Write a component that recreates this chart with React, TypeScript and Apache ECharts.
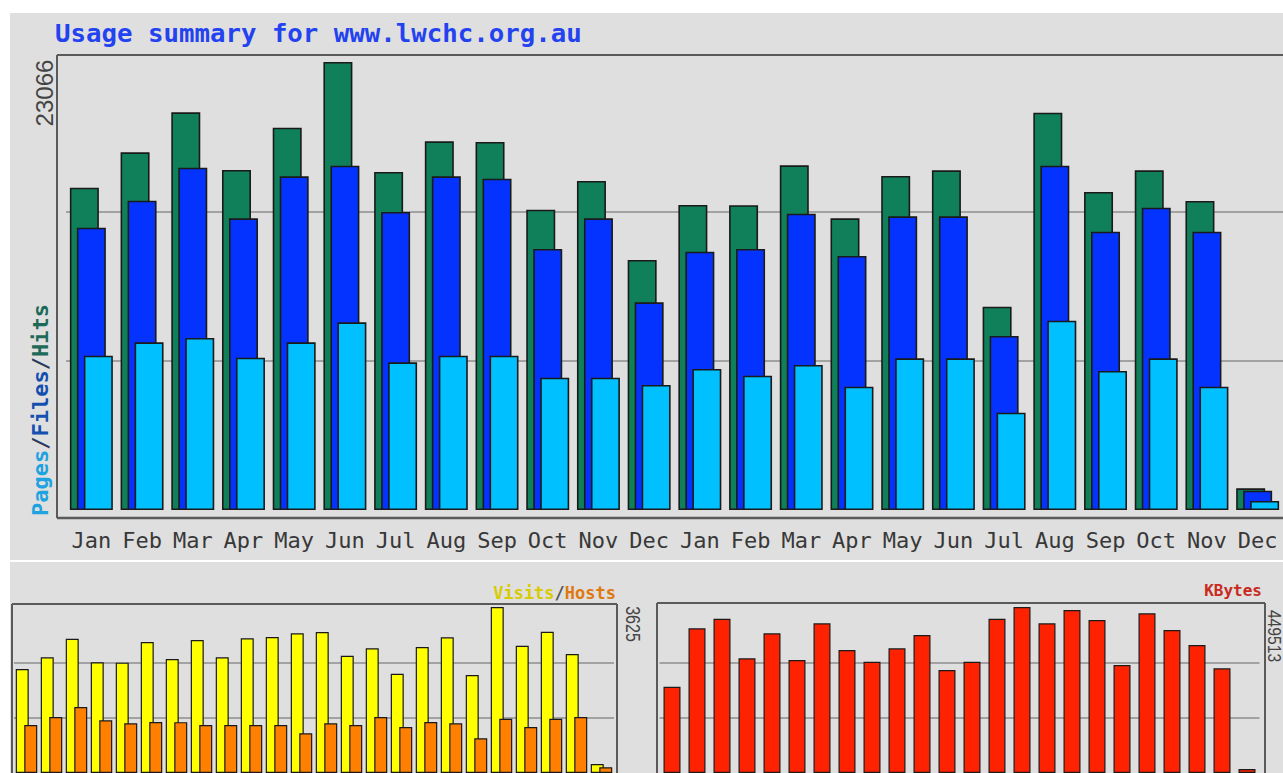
import React, { useEffect, useRef } from "react";
import * as echarts from "echarts";

const months = [
  "Jan", "Feb", "Mar", "Apr", "May", "Jun", "Jul", "Aug", "Sep", "Oct", "Nov", "Dec",
  "Jan", "Feb", "Mar", "Apr", "May", "Jun", "Jul", "Aug", "Sep", "Oct", "Nov", "Dec",
];
const hits = [
  16594, 18417, 20476, 17506, 19684, 23066, 17403, 18983, 18950, 15462, 16939, 12872,
  15704, 15690, 17748, 15019, 17197, 17490, 10467, 20456, 16373, 17490, 15910, 1117,
];
const files = [
  14535, 15925, 17624, 15019, 17181, 17727, 15343, 17181, 17058, 13438, 15019, 10694,
  13299, 13438, 15256, 13078, 15122, 15122, 8959, 17727, 14329, 15565, 14329, 994,
];
const pages = [
  7944, 8634, 8856, 7841, 8634, 9664, 7605, 7944, 7944, 6812, 6812, 6436,
  7260, 6915, 7466, 6348, 7811, 7811, 5010, 9747, 7157, 7811, 6348, 463,
];
const visits = [
  2271, 2527, 2933, 2417, 2410, 2861, 2489, 2904, 2527, 2941, 2970, 3051,
  3079, 2562, 2723, 2168, 2751, 2963, 2140, 3625, 2780, 3086, 2599, 197,
];
const hosts = [
  1048, 1223, 1441, 1150, 1085, 1114, 1110, 1048, 1048, 1048, 1048, 866,
  1085, 1048, 1223, 1004, 1114, 1085, 757, 1186, 1004, 1186, 1223, 125,
];
const kbytes = [
  233700, 391800, 417800, 310600, 378300, 306000, 405400, 333100, 301400, 337700, 373700, 278900,
  301400, 417800, 449513, 405400, 441400, 414300, 292500, 432400, 387200, 346600, 283500, 10800,
];
const hitsMax = 23066;
const visitsMax = 3625;
const kbytesMax = 449513;
const titleText = "Usage summary for www.lwchc.org.au";

const BG = "#dfdfdf";
const FRAME = "#5a5a5a";
const barBorder = { borderColor: "#1a1a1a", borderWidth: 1.6 };
const splitColors = ["rgba(0,0,0,0)", "#8e8e8e", "#8e8e8e", "rgba(0,0,0,0)"];

function valueAxis(gridIndex: number, max: number) {
  return {
    type: "value",
    gridIndex,
    min: 0,
    max,
    interval: max / 3,
    axisLabel: { show: false },
    axisLine: { show: false },
    axisTick: { show: false },
    splitLine: { show: true, lineStyle: { color: splitColors, width: 1.5 } },
  };
}

function catAxis(gridIndex: number, showLabels: boolean) {
  return {
    type: "category",
    gridIndex,
    data: months,
    axisLine: { show: false },
    axisTick: { show: false },
    splitLine: { show: false },
    axisLabel: {
      show: showLabels,
      interval: 0,
      margin: 19,
      fontFamily: "DejaVu Sans Mono",
      fontSize: 22,
      color: "#383838",
    },
  };
}

function line(x1: number, y1: number, x2: number, y2: number, w = 2) {
  return {
    type: "line",
    z: 5,
    shape: { x1, y1, x2, y2 },
    style: { stroke: FRAME, lineWidth: w },
  };
}

export default function App() {
  const ref = useRef<HTMLDivElement>(null);

  useEffect(() => {
    if (!ref.current) return;
    const chart = echarts.init(ref.current, undefined, { renderer: "svg" });
    const option = {
      animation: false,
      backgroundColor: "#ffffff",
      grid: [
        { left: 66, top: 62, width: 1218, height: 448 },
        { left: 14, top: 607, width: 600, height: 166 },
        { left: 659.5, top: 607, width: 600, height: 166 },
      ],
      xAxis: [catAxis(0, true), catAxis(1, false), catAxis(2, false)],
      yAxis: [valueAxis(0, hitsMax), valueAxis(1, visitsMax), valueAxis(2, kbytesMax)],
      series: [
        {
          type: "bar", name: "Hits", xAxisIndex: 0, yAxisIndex: 0, data: hits,
          barWidth: 29, barGap: "-75.9%", itemStyle: { color: "#10805a", ...barBorder },
        },
        {
          type: "bar", name: "Files", xAxisIndex: 0, yAxisIndex: 0, data: files,
          barWidth: 29, barGap: "-75.9%", itemStyle: { color: "#0433ff", ...barBorder },
        },
        {
          type: "bar", name: "Pages", xAxisIndex: 0, yAxisIndex: 0, data: pages,
          barWidth: 29, barGap: "-75.9%", itemStyle: { color: "#00c0ff", ...barBorder },
        },
        {
          type: "bar", name: "Visits", xAxisIndex: 1, yAxisIndex: 1, data: visits,
          barWidth: 13, barGap: "-34.6%", itemStyle: { color: "#ffff00", ...barBorder, borderWidth: 1.2 },
        },
        {
          type: "bar", name: "Hosts", xAxisIndex: 1, yAxisIndex: 1, data: hosts,
          barWidth: 13, barGap: "-34.6%", itemStyle: { color: "#ff8000", ...barBorder, borderWidth: 1.2 },
        },
        {
          type: "bar", name: "KBytes", xAxisIndex: 2, yAxisIndex: 2, data: kbytes,
          barWidth: 17, itemStyle: { color: "#ff2200", ...barBorder, borderWidth: 1.2 },
        },
      ],
      graphic: [
        { type: "rect", z: -10, shape: { x: 10, y: 13, width: 1273, height: 547 }, style: { fill: BG } },
        { type: "rect", z: -10, shape: { x: 10, y: 562, width: 1273, height: 211 }, style: { fill: BG } },
        // top frame
        line(57, 55, 1283, 55),
        line(57, 55, 57, 518),
        line(57, 518, 1283, 518, 2.5),
        // lower-left frame
        line(12, 604, 617, 604),
        line(12, 604, 12, 773),
        line(617, 604, 617, 773),
        // lower-right frame
        line(657, 603, 1265, 603),
        line(657, 603, 657, 773),
        line(1265, 603, 1265, 773),
        {
          type: "text", x: 55, y: 33, z: 6, scaleX: 1.03,
          style: {
            text: titleText, fill: "#2342f0",
            fontFamily: "DejaVu Sans Mono", fontWeight: "bold", fontSize: 25,
            align: "left", verticalAlign: "middle",
          },
        },
        {
          type: "text", x: 44.5, y: 93, z: 6, rotation: Math.PI / 2,
          style: {
            text: String(hitsMax), fill: "#444444",
            fontFamily: "Liberation Sans", fontSize: 24,
            align: "center", verticalAlign: "middle",
          },
        },
        {
          type: "text", x: 40, y: 410, z: 6, rotation: Math.PI / 2,
          style: {
            text: "{p|Pages}{s|/}{f|Files}{s|/}{h|Hits}",
            fontFamily: "DejaVu Sans Mono", fontWeight: "bold", fontSize: 22,
            align: "center", verticalAlign: "middle",
            rich: {
              p: { fill: "#1fa3e0", fontFamily: "DejaVu Sans Mono", fontWeight: "bold", fontSize: 22 },
              s: { fill: "#2a3a5a", fontFamily: "DejaVu Sans Mono", fontWeight: "bold", fontSize: 22 },
              f: { fill: "#1450b0", fontFamily: "DejaVu Sans Mono", fontWeight: "bold", fontSize: 22 },
              h: { fill: "#1d6a58", fontFamily: "DejaVu Sans Mono", fontWeight: "bold", fontSize: 22 },
            },
          },
        },
        {
          type: "text", x: 616, y: 593, z: 6,
          style: {
            text: "{v|Visits}{s|/}{o|Hosts}",
            fontFamily: "DejaVu Sans Mono", fontWeight: "bold", fontSize: 17,
            align: "right", verticalAlign: "middle",
            rich: {
              v: { fill: "#d8cc00", fontFamily: "DejaVu Sans Mono", fontWeight: "bold", fontSize: 17 },
              s: { fill: "#555555", fontFamily: "DejaVu Sans Mono", fontWeight: "bold", fontSize: 17 },
              o: { fill: "#e07810", fontFamily: "DejaVu Sans Mono", fontWeight: "bold", fontSize: 17 },
            },
          },
        },
        {
          type: "text", x: 632.5, y: 624, z: 6, rotation: -Math.PI / 2, scaleX: 0.8,
          style: {
            text: String(visitsMax), fill: "#444444",
            fontFamily: "Liberation Sans", fontSize: 20,
            align: "center", verticalAlign: "middle",
          },
        },
        {
          type: "text", x: 1262, y: 590, z: 6,
          style: {
            text: "KBytes", fill: "#c82a20",
            fontFamily: "DejaVu Sans Mono", fontWeight: "bold", fontSize: 16,
            align: "right", verticalAlign: "middle",
          },
        },
        {
          type: "text", x: 1274, y: 636, z: 6, rotation: -Math.PI / 2, scaleX: 0.87,
          style: {
            text: String(kbytesMax), fill: "#444444",
            fontFamily: "Liberation Sans", fontSize: 18,
            align: "center", verticalAlign: "middle",
          },
        },
      ],
    };
    chart.setOption(option as any);
    return () => chart.dispose();
  }, []);

  return (
    <div
      ref={ref}
      style={{ position: "absolute", left: 0, top: 0, width: 1283, height: 773 }}
    />
  );
}
